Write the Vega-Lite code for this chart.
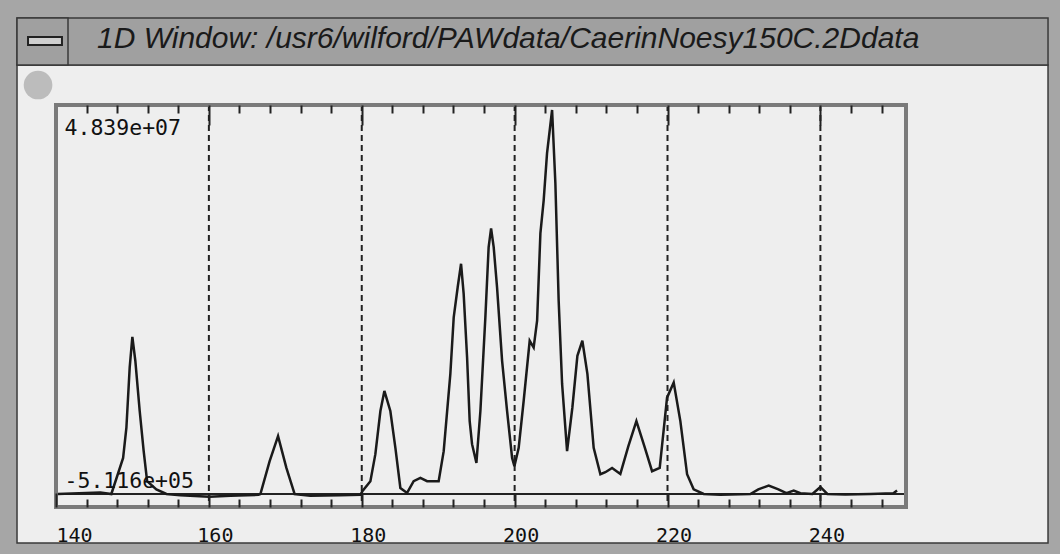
{
  "$schema": "https://vega.github.io/schema/vega-lite/v6.json",
  "autosize": {"type": "none"},
  "width": 850,
  "height": 402,
  "padding": {"left": 56, "top": 105, "right": 154, "bottom": 47},
  "background": "#a6a6a6",
  "config": {"view": {"stroke": null}},
  "title": {
    "text": "1D Window: /usr6/wilford/PAWdata/CaerinNoesy150C.2Ddata",
    "anchor": "start", "frame": "group", "dx": 41, "offset": -61,
    "baseline": "alphabetic", "font": "Liberation Sans", "fontStyle": "italic",
    "fontWeight": "normal", "fontSize": 30, "color": "#1a1a1a", "zindex": 1
  },
  "datasets": {
    "spectrum": [
      {"shift": 140.2, "intensity": 0},
      {"shift": 145.8, "intensity": 180000},
      {"shift": 147.24, "intensity": 0},
      {"shift": 148.78, "intensity": 4550000},
      {"shift": 149.21, "intensity": 8350000},
      {"shift": 149.64, "intensity": 15930000},
      {"shift": 149.99, "intensity": 19810000},
      {"shift": 150.38, "intensity": 16780000},
      {"shift": 150.95, "intensity": 10460000},
      {"shift": 151.47, "intensity": 5400000},
      {"shift": 151.92, "intensity": 1610000},
      {"shift": 153.13, "intensity": 590000},
      {"shift": 154.44, "intensity": 0},
      {"shift": 156.27, "intensity": -160000},
      {"shift": 160.07, "intensity": -350000},
      {"shift": 162.81, "intensity": -230000},
      {"shift": 166.48, "intensity": -100000},
      {"shift": 166.74, "intensity": 0},
      {"shift": 167.95, "intensity": 4130000},
      {"shift": 169.05, "intensity": 7300000},
      {"shift": 170.14, "intensity": 3290000},
      {"shift": 171.22, "intensity": 0},
      {"shift": 173.28, "intensity": -230000},
      {"shift": 177.2, "intensity": -160000},
      {"shift": 179.82, "intensity": -100000},
      {"shift": 180.08, "intensity": 340000},
      {"shift": 181.13, "intensity": 1610000},
      {"shift": 181.78, "intensity": 5020000},
      {"shift": 182.44, "intensity": 10460000},
      {"shift": 182.96, "intensity": 12990000},
      {"shift": 183.74, "intensity": 10460000},
      {"shift": 184.4, "intensity": 5820000},
      {"shift": 185.05, "intensity": 760000},
      {"shift": 185.93, "intensity": 130000},
      {"shift": 186.79, "intensity": 1610000},
      {"shift": 187.67, "intensity": 2020000},
      {"shift": 188.55, "intensity": 1610000},
      {"shift": 190.06, "intensity": 1610000},
      {"shift": 190.72, "intensity": 5400000},
      {"shift": 191.59, "intensity": 15140000},
      {"shift": 192.03, "intensity": 22260000},
      {"shift": 192.55, "intensity": 26050000},
      {"shift": 192.99, "intensity": 29010000},
      {"shift": 193.33, "intensity": 25250000},
      {"shift": 193.78, "intensity": 17200000},
      {"shift": 194.12, "intensity": 9190000},
      {"shift": 194.43, "intensity": 6280000},
      {"shift": 195.0, "intensity": 3920000},
      {"shift": 195.52, "intensity": 10460000},
      {"shift": 196.17, "intensity": 22260000},
      {"shift": 196.6, "intensity": 31110000},
      {"shift": 196.92, "intensity": 33470000},
      {"shift": 197.26, "intensity": 31110000},
      {"shift": 197.7, "intensity": 26050000},
      {"shift": 198.36, "intensity": 16780000},
      {"shift": 199.01, "intensity": 10460000},
      {"shift": 199.67, "intensity": 4550000},
      {"shift": 199.97, "intensity": 3500000},
      {"shift": 200.53, "intensity": 5820000},
      {"shift": 201.18, "intensity": 11720000},
      {"shift": 201.97, "intensity": 19310000},
      {"shift": 202.49, "intensity": 18460000},
      {"shift": 202.94, "intensity": 21840000},
      {"shift": 203.37, "intensity": 32840000},
      {"shift": 203.8, "intensity": 37010000},
      {"shift": 204.24, "intensity": 42950000},
      {"shift": 204.9, "intensity": 48390000},
      {"shift": 205.33, "intensity": 39160000},
      {"shift": 205.76, "intensity": 24370000},
      {"shift": 206.21, "intensity": 13870000},
      {"shift": 206.86, "intensity": 5400000},
      {"shift": 207.55, "intensity": 10870000},
      {"shift": 208.21, "intensity": 17410000},
      {"shift": 208.86, "intensity": 19310000},
      {"shift": 209.52, "intensity": 15140000},
      {"shift": 210.34, "intensity": 5820000},
      {"shift": 211.22, "intensity": 2490000},
      {"shift": 211.87, "intensity": 2740000},
      {"shift": 212.75, "intensity": 3290000},
      {"shift": 213.83, "intensity": 2530000},
      {"shift": 214.88, "intensity": 6030000},
      {"shift": 215.93, "intensity": 9190000},
      {"shift": 216.97, "intensity": 6030000},
      {"shift": 217.98, "intensity": 2870000},
      {"shift": 218.98, "intensity": 3290000},
      {"shift": 219.94, "intensity": 12140000},
      {"shift": 220.81, "intensity": 14040000},
      {"shift": 221.68, "intensity": 9190000},
      {"shift": 222.56, "intensity": 2490000},
      {"shift": 223.42, "intensity": 590000},
      {"shift": 224.73, "intensity": 0},
      {"shift": 226.92, "intensity": -100000},
      {"shift": 230.84, "intensity": 0},
      {"shift": 231.88, "intensity": 590000},
      {"shift": 233.24, "intensity": 1060000},
      {"shift": 234.51, "intensity": 590000},
      {"shift": 235.55, "intensity": 100000},
      {"shift": 236.51, "intensity": 430000},
      {"shift": 237.38, "intensity": 100000},
      {"shift": 238.95, "intensity": 0},
      {"shift": 240.0, "intensity": 890000},
      {"shift": 240.91, "intensity": 0},
      {"shift": 243.27, "intensity": -50000},
      {"shift": 246.54, "intensity": 0},
      {"shift": 249.55, "intensity": 100000},
      {"shift": 250.03, "intensity": 430000}
    ],
    "guides": [
      {"shift": 160}, {"shift": 180}, {"shift": 200}, {"shift": 220}, {"shift": 240}
    ],
    "one": [{}]
  },
  "resolve": {"axis": {"x": "independent", "y": "independent"}},
  "layer": [
    {
      "data": {"name": "one"},
      "mark": {"type": "rect", "fill": "#eeeeee", "stroke": "#3a3a3a", "strokeWidth": 1.5, "clip": false},
      "encoding": {
        "x": {"datum": 134.9, "type": "quantitative", "axis": null},
        "x2": {"datum": 269.78},
        "y": {"datum": 54060000, "type": "quantitative", "axis": null},
        "y2": {"datum": -6175000}
      }
    },
    {
      "data": {"name": "one"},
      "mark": {"type": "rect", "fill": "#a0a0a0", "stroke": "#3a3a3a", "strokeWidth": 1.5, "clip": false},
      "encoding": {
        "x": {"datum": 134.9, "type": "quantitative", "axis": null},
        "x2": {"datum": 269.78},
        "y": {"datum": 59980000, "type": "quantitative", "axis": null},
        "y2": {"datum": 54060000}
      }
    },
    {
      "data": {"name": "one"},
      "mark": {"type": "rect", "fill": "#a0a0a0", "stroke": "#3a3a3a", "strokeWidth": 1.5, "clip": false},
      "encoding": {
        "x": {"datum": 134.9, "type": "quantitative", "axis": null},
        "x2": {"datum": 141.57},
        "y": {"datum": 59980000, "type": "quantitative", "axis": null},
        "y2": {"datum": 54060000}
      }
    },
    {
      "data": {"name": "one"},
      "mark": {"type": "rect", "fill": "#cfcfcf", "stroke": "#222222", "strokeWidth": 2, "clip": false},
      "encoding": {
        "x": {"datum": 136.34, "type": "quantitative", "axis": null},
        "x2": {"datum": 140.78},
        "y": {"datum": 57590000, "type": "quantitative", "axis": null},
        "y2": {"datum": 56580000}
      }
    },
    {
      "data": {"name": "one"},
      "mark": {"type": "point", "filled": true, "fill": "#bcbcbc", "opacity": 1, "size": 820, "clip": false},
      "encoding": {
        "x": {"datum": 137.65, "type": "quantitative", "axis": null},
        "y": {"datum": 51540000, "type": "quantitative", "axis": null}
      }
    },
    {
      "data": {"name": "guides"},
      "mark": {"type": "rule", "color": "#222222", "strokeWidth": 2, "strokeDash": [6, 4]},
      "encoding": {
        "x": {
          "field": "shift", "type": "quantitative",
          "axis": {
            "orient": "top", "zindex": 1, "title": null, "labels": false, "domain": false, "grid": false,
            "values": [144,148,152,156,160,164,168,172,176,180,184,188,192,196,200,204,208,212,216,220,224,228,232,236,240,244,248],
            "tickColor": "#222222", "tickWidth": 2,
            "tickSize": {"condition": {"test": "datum.value % 20 === 0", "value": -20}, "value": -8}
          }
        }
      }
    },
    {
      "data": {"name": "one"},
      "mark": {"type": "rule", "color": "#222222", "strokeWidth": 2},
      "encoding": {
        "y": {"datum": 0, "type": "quantitative", "axis": null}
      }
    },
    {
      "data": {"name": "spectrum"},
      "mark": {"type": "line", "color": "#1a1a1a", "strokeWidth": 2.5},
      "encoding": {
        "x": {
          "field": "shift", "type": "quantitative",
          "scale": {"domain": [140, 251.2], "nice": false, "zero": false},
          "axis": {
            "orient": "bottom", "zindex": 1, "title": null, "domain": false, "grid": false,
            "values": [140,144,148,152,156,160,164,168,172,176,180,184,188,192,196,200,204,208,212,216,220,224,228,232,236,240,244,248],
            "labelExpr": "datum.value % 20 === 0 ? format(datum.value, 'd') : ''",
            "tickColor": "#222222", "tickWidth": 2,
            "tickSize": {"condition": {"test": "datum.value % 20 === 0", "value": -14}, "value": -8},
            "labelFont": "DejaVu Sans Mono", "labelFontSize": 20, "labelColor": "#111111",
            "labelPadding": 32, "labelBaseline": "top", "labelFlush": true,
            "labelOffset": {"condition": {"test": "datum.value === 140", "value": 0}, "value": 6},
            "labelOverlap": false, "labelBound": false
          }
        },
        "y": {
          "field": "intensity", "type": "quantitative",
          "scale": {"domain": [-1638000, 49020000], "nice": false, "zero": false},
          "axis": {
            "orient": "left", "zindex": 1, "title": null, "domain": false, "grid": false, "ticks": false,
            "values": [48390000, -511600],
            "labelExpr": "replace(replace(format(datum.value, '.3e'), '\u2212', '-'), 'e+', 'e+0')",
            "labelAlign": "left", "labelPadding": -8, "labelBaseline": "alphabetic",
            "labelOffset": {"condition": {"test": "datum.value > 0", "value": 25}, "value": -11},
            "labelFont": "DejaVu Sans Mono", "labelFontSize": 21.5, "labelColor": "#111111",
            "labelOverlap": false, "labelBound": false, "labelFlush": false
          }
        }
      }
    },
    {
      "data": {"name": "one"},
      "mark": {"type": "rect", "fill": null, "fillOpacity": 0, "stroke": "#7a7a7a", "strokeWidth": 4, "clip": false},
      "encoding": {
        "x": {"datum": 140, "type": "quantitative", "axis": null},
        "x2": {"datum": 251.2},
        "y": {"datum": -1638000, "type": "quantitative", "axis": null},
        "y2": {"datum": 49020000}
      }
    }
  ]
}
